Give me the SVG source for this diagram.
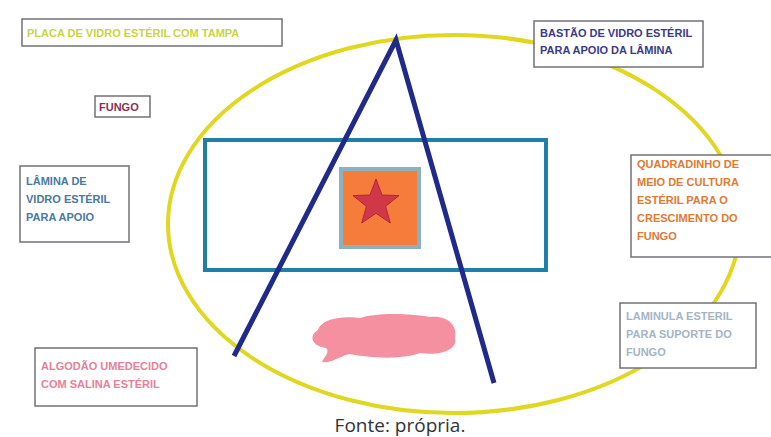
<svg xmlns="http://www.w3.org/2000/svg" width="771" height="437" viewBox="0 0 771 437">
<style>
.lbl{fill:#fff;stroke:#707078;stroke-width:1.5}
.t{font-family:"Liberation Sans",Arial,sans-serif;font-size:15px;font-weight:bold;font-variant-caps:all-small-caps}
</style>
<rect width="771" height="437" fill="#fff"/>
<g id="plate"><ellipse cx="454" cy="224" rx="286" ry="189" fill="none" stroke="#e0d820" stroke-width="4"/></g>
<g id="slide"><rect x="205" y="140" width="341" height="130" fill="none" stroke="#1e80a8" stroke-width="4"/></g>
<g id="medium">
<rect x="341" y="169" width="78" height="78" fill="#f57c3a" stroke="#8db0be" stroke-width="4"/>
<polygon points="376,179 382,195 399,195.6 385.6,206.4 390.3,223 376,213.3 361.7,223 366.4,206.4 353,195.6 370,195" fill="#d03848" stroke="#b02838" stroke-width="1"/>
</g>
<g id="cotton"><path d="M318,330 C322,318 345,316 360,318 C380,312 410,314 430,317 C448,315 458,326 455,338 C458,350 440,356 420,353 C400,360 370,358 350,354 C340,356 330,364 322,362 C325,356 330,352 326,348 C312,346 308,336 318,330 Z" fill="#f4909f"/></g>
<g id="rod"><polyline points="234,356 396,40 494,383" fill="none" stroke="#1f2a8a" stroke-width="5" stroke-linejoin="miter"/></g>
<g id="label-placa"><rect class="lbl" x="22" y="19" width="260" height="27"/><text class="t" x="27" y="37" fill="#c8d444">PLACA DE VIDRO ESTÉRIL COM TAMPA</text></g>
<g id="label-bastao"><rect class="lbl" x="534" y="21" width="169" height="46"/><text class="t" fill="#3a3a88"><tspan x="540" y="37">BASTÃO DE VIDRO ESTÉRIL</tspan><tspan x="540" y="54">PARA APOIO DA LÂMINA</tspan></text></g>
<g id="label-fungo"><rect class="lbl" x="95" y="96" width="55" height="21"/><text class="t" x="99" y="111" fill="#8a3050">FUNGO</text></g>
<g id="label-lamina"><rect class="lbl" x="20" y="166" width="109" height="76"/><text class="t" fill="#4a78a0"><tspan x="26" y="185">LÂMINA DE</tspan><tspan x="26" y="203">VIDRO ESTÉRIL</tspan><tspan x="26" y="221">PARA APOIO</tspan></text></g>
<g id="label-quadradinho"><rect class="lbl" x="631" y="155" width="145" height="102"/><text class="t" fill="#e07a30"><tspan x="637" y="168">QUADRADINHO DE</tspan><tspan x="637" y="186">MEIO DE CULTURA</tspan><tspan x="637" y="204">ESTÉRIL PARA O</tspan><tspan x="637" y="222">CRESCIMENTO DO</tspan><tspan x="637" y="240">FUNGO</tspan></text></g>
<g id="label-laminula"><rect class="lbl" x="620" y="303" width="136" height="65"/><text class="t" fill="#a4b4c4"><tspan x="626" y="320">LAMINULA ESTERIL</tspan><tspan x="626" y="338">PARA SUPORTE DO</tspan><tspan x="626" y="356">FUNGO</tspan></text></g>
<g id="label-algodao"><rect class="lbl" x="35" y="348" width="162" height="58"/><text class="t" fill="#e88098"><tspan x="41" y="370">ALGODÃO UMEDECIDO</tspan><tspan x="41" y="388">COM SALINA ESTÉRIL</tspan></text></g>
<text x="400" y="432" text-anchor="middle" font-family="'Open Sans',sans-serif" font-size="19" fill="#333">Fonte: própria.</text>
</svg>
